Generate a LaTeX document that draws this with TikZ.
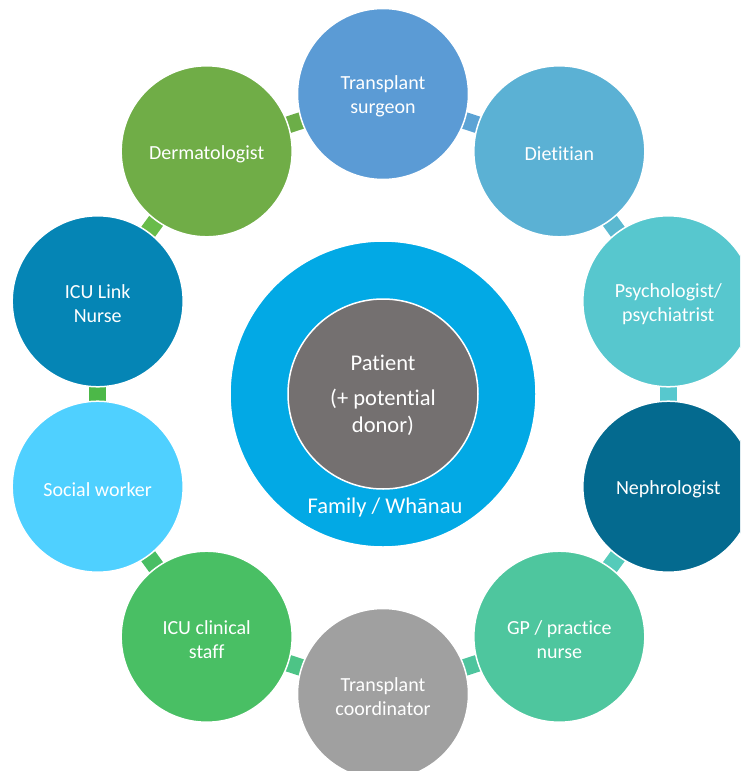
\documentclass[tikz,border=0pt]{standalone}
\usepackage{fontspec}
\setmainfont{Carlito}[Ligatures=NoCommon]
\usetikzlibrary{backgrounds,calc}
\definecolor{cSurg}{HTML}{5B9BD5}
\definecolor{cDiet}{HTML}{5BB1D4}
\definecolor{cPsych}{HTML}{57C7CE}
\definecolor{cNeph}{HTML}{046A8F}
\definecolor{cGP}{HTML}{4EC69E}
\definecolor{cCoord}{HTML}{A0A0A0}
\definecolor{cICUc}{HTML}{49BF64}
\definecolor{cSocial}{HTML}{4FD0FF}
\definecolor{cLink}{HTML}{0585B5}
\definecolor{cDerm}{HTML}{70AD47}
\definecolor{cFamily}{HTML}{02A9E5}
\definecolor{cPatient}{HTML}{747070}
\definecolor{k01}{HTML}{5BA3D5}
\definecolor{k12}{HTML}{5AB8D0}
\definecolor{k23}{HTML}{57C8CE}
\definecolor{k34}{HTML}{55CBBA}
\definecolor{k45}{HTML}{4EC59E}
\definecolor{k56}{HTML}{4DC486}
\definecolor{k67}{HTML}{49BE64}
\definecolor{k78}{HTML}{4CB848}
\definecolor{k89}{HTML}{68BC4A}
\definecolor{k90}{HTML}{6CAE48}
\begin{document}
\begin{tikzpicture}[x=1pt,y=1pt,
  member/.style={circle, minimum size=171pt, inner sep=0pt, draw=white, line width=1.5pt},
  lbl/.style={text=white, align=center, font=\fontsize{20}{24}\selectfont},
  centretext/.style={text=white, align=center, font=\fontsize{22.5}{27}\selectfont, anchor=base},
  linkbar/.style={line width=17pt}]
\useasboundingbox (0,0) rectangle (740,-771);
\clip (0,0) rectangle (740,-771);
\coordinate (C) at (383,-394);
% outer ring
\node[member, fill=cSurg]   (m0) at ($(C)+(90:300)$) {};
\node[member, fill=cDiet]   (m1) at ($(C)+(54:300)$) {};
\node[member, fill=cPsych]  (m2) at ($(C)+(18:300)$) {};
\node[member, fill=cNeph]   (m3) at ($(C)+(-18:300)$) {};
\node[member, fill=cGP]     (m4) at ($(C)+(-54:300)$) {};
\node[member, fill=cCoord]  (m5) at ($(C)+(-90:300)$) {};
\node[member, fill=cICUc]   (m6) at ($(C)+(-126:300)$) {};
\node[member, fill=cSocial] (m7) at ($(C)+(-162:300)$) {};
\node[member, fill=cLink]   (m8) at ($(C)+(162:300)$) {};
\node[member, fill=cDerm]   (m9) at ($(C)+(126:300)$) {};
\node[lbl] (t0) at ([yshift=-2.5pt]m0.center) {Transplant\\surgeon};
\node[lbl] (t1) at ([yshift=-2.5pt]m1.center) {Dietitian};
\node[lbl] (t2) at ([yshift=-2.5pt]m2.center) {Psychologist/\\psychiatrist};
\node[lbl] (t3) at ([yshift=-2.5pt]m3.center) {Nephrologist};
\node[lbl] (t4) at ([yshift=-2.5pt]m4.center) {GP / practice\\nurse};
\node[lbl] (t5) at ([yshift=-2.5pt]m5.center) {Transplant\\coordinator};
\node[lbl] (t6) at ([yshift=-2.5pt]m6.center) {ICU clinical\\staff};
\node[lbl] (t7) at ([yshift=-2.5pt]m7.center) {Social worker};
\node[lbl] (t8) at ([yshift=-2.5pt]m8.center) {ICU Link\\Nurse};
\node[lbl] (t9) at ([yshift=-2.5pt]m9.center) {Dermatologist};
% connectors behind the circles
\begin{pgfonlayer}{background}
\draw[linkbar, k01] (m0.center) -- (m1.center);
\draw[linkbar, k12] (m1.center) -- (m2.center);
\draw[linkbar, k23] (m2.center) -- (m3.center);
\draw[linkbar, k34] (m3.center) -- (m4.center);
\draw[linkbar, k45] (m4.center) -- (m5.center);
\draw[linkbar, k56] (m5.center) -- (m6.center);
\draw[linkbar, k67] (m6.center) -- (m7.center);
\draw[linkbar, k78] (m7.center) -- (m8.center);
\draw[linkbar, k89] (m8.center) -- (m9.center);
\draw[linkbar, k90] (m9.center) -- (m0.center);
\end{pgfonlayer}
% centre
\node[circle, minimum size=306pt, inner sep=0pt, fill=cFamily, draw=white, line width=1.5pt] (family) at (C) {};
\node[circle, minimum size=190pt, inner sep=0pt, fill=cPatient, draw=white, line width=1.5pt] (patient) at (C) {};
\node[centretext] (ptxt) at (383,-370) {Patient};
\node[centretext] (ptxt2) at (383,-405) {(+ potential};
\node[centretext] (ptxt3) at (383,-432) {donor)};
\node[centretext] (ftxt) at (385,-513) {Family / Whānau};
\end{tikzpicture}
\end{document}
